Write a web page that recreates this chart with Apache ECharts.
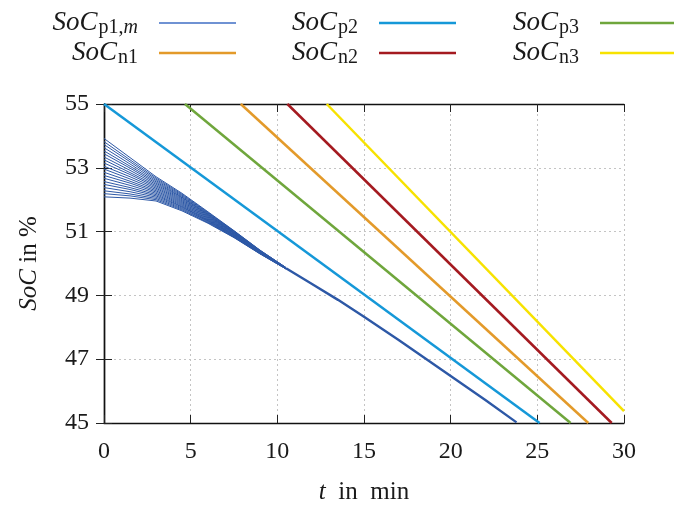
<!DOCTYPE html>
<html>
<head>
<meta charset="utf-8">
<title>SoC over time</title>
<script src="https://cdn.jsdelivr.net/npm/echarts@6/dist/echarts.min.js"></script>
<style>
  html, body { margin: 0; padding: 0; background: #fff; }
  #chart { width: 674px; height: 507px; }
</style>
</head>
<body>
<div id="chart"></div>
<script>
  // fan of SoC_p1,m lines (one row per m), read at fanTimes
  var fanTimes = [0, 1.5, 3, 4.5, 6, 7.5, 9, 10.5];
  var fanSoC = [
    [52.09, 52.05, 51.96, 51.65, 51.26, 50.81, 50.30, 49.83],
    [52.19, 52.12, 52.00, 51.68, 51.28, 50.82, 50.31, 49.83],
    [52.28, 52.18, 52.04, 51.71, 51.30, 50.83, 50.31, 49.83],
    [52.38, 52.25, 52.08, 51.74, 51.32, 50.84, 50.32, 49.84],
    [52.48, 52.32, 52.12, 51.77, 51.34, 50.86, 50.33, 49.84],
    [52.57, 52.38, 52.16, 51.79, 51.35, 50.87, 50.33, 49.84],
    [52.67, 52.45, 52.20, 51.82, 51.37, 50.88, 50.34, 49.84],
    [52.76, 52.52, 52.24, 51.85, 51.39, 50.89, 50.34, 49.84],
    [52.86, 52.58, 52.28, 51.88, 51.41, 50.90, 50.35, 49.85],
    [52.96, 52.65, 52.32, 51.91, 51.43, 50.91, 50.36, 49.85],
    [53.05, 52.72, 52.36, 51.94, 51.45, 50.93, 50.36, 49.85],
    [53.15, 52.79, 52.40, 51.97, 51.47, 50.94, 50.37, 49.85],
    [53.25, 52.85, 52.44, 52.00, 51.49, 50.95, 50.38, 49.86],
    [53.34, 52.92, 52.48, 52.03, 51.51, 50.96, 50.38, 49.86],
    [53.44, 52.99, 52.52, 52.06, 51.53, 50.97, 50.39, 49.86],
    [53.53, 53.05, 52.56, 52.08, 51.54, 50.98, 50.39, 49.86],
    [53.63, 53.12, 52.60, 52.11, 51.56, 51.00, 50.40, 49.86],
    [53.73, 53.19, 52.64, 52.14, 51.58, 51.01, 50.41, 49.87],
    [53.82, 53.25, 52.68, 52.17, 51.60, 51.02, 50.41, 49.87],
    [53.92, 53.32, 52.72, 52.20, 51.62, 51.03, 50.42, 49.87]
  ];
  // merged SoC_p1,m after the fan has closed
  var tailTimes = [10.5, 12, 13.5, 15, 17, 20, 22, 23.8];
  var tailSoC = [49.85, 49.36, 48.86, 48.33, 47.60, 46.47, 45.72, 45.02];

  var p2Times = [0, 25.13],     p2SoC = [55, 45];
  var p3Times = [4.67, 26.92],  p3SoC = [55, 45];
  var n1Times = [7.89, 27.94],  n1SoC = [55, 45];
  var n2Times = [10.58, 29.29], n2SoC = [55, 45];
  var n3Times = [12.85, 30],    n3SoC = [55, 45.37];

  var xTicks = [0, 5, 10, 15, 20, 25, 30];
  var yTicks = [45, 47, 49, 51, 53, 55];

  var serif = 'Liberation Serif';
  var ink = '#1a1a1a';
  var fanColor = '#2d58a6';

  function zip(xs, ys) {
    return xs.map(function (x, i) { return [x, ys[i]]; });
  }

  var labels = {
    p1m: '{i|SoC}{s|p1,}{si|m}',
    p2: '{i|SoC}{s|p2}',
    p3: '{i|SoC}{s|p3}',
    n1: '{i|SoC}{s|n1}',
    n2: '{i|SoC}{s|n2}',
    n3: '{i|SoC}{s|n3}'
  };
  var rich = {
    i: { fontFamily: serif, fontStyle: 'italic', fontSize: 27, lineHeight: 30, color: ink },
    s: { fontFamily: serif, fontSize: 20, lineHeight: 18, verticalAlign: 'bottom', padding: [10, 0, 0, 1], color: ink },
    si: { fontFamily: serif, fontStyle: 'italic', fontSize: 20, lineHeight: 18, verticalAlign: 'bottom', padding: [10, 0, 0, 0], color: ink }
  };

  var series = [];
  fanSoC.forEach(function (row) {
    series.push({
      name: 'p1m', type: 'line', symbol: 'none', silent: true,
      lineStyle: { width: 1, color: fanColor }, itemStyle: { color: fanColor },
      data: zip(fanTimes, row)
    });
  });
  series.push({
    name: 'p1m', type: 'line', symbol: 'none', silent: true,
    lineStyle: { width: 2.4, color: fanColor }, itemStyle: { color: fanColor },
    data: zip(tailTimes, tailSoC)
  });
  var others = [
    ['p2', p2Times, p2SoC, '#1598d8'],
    ['p3', p3Times, p3SoC, '#6fa63c'],
    ['n1', n1Times, n1SoC, '#e39a2a'],
    ['n2', n2Times, n2SoC, '#a41a20'],
    ['n3', n3Times, n3SoC, '#f7e200']
  ];
  others.forEach(function (o) {
    series.push({
      name: o[0], type: 'line', symbol: 'none',
      lineStyle: { width: 2.5, color: o[3] }, itemStyle: { color: o[3] },
      data: zip(o[1], o[2])
    });
  });

  // legend: 2 rows x 3 columns, text left of line
  var legendPos = [
    ['p1m', 438, 8], ['p2', 218, 8], ['p3', -3, 8],
    ['n1', 438, 38], ['n2', 218, 38], ['n3', -3, 38]
  ];
  var legends = legendPos.map(function (l) {
    var lg = {
      data: [l[0]], right: l[1], top: l[2], align: 'right', orient: 'horizontal',
      padding: 0, itemGap: 0, itemWidth: 77, itemHeight: 2.5, icon: 'rect', selectedMode: false,
      formatter: function (name) { return labels[name]; },
      textStyle: { rich: rich, padding: [0, 16, 0, 0] }
    };
    if (l[0] === 'p1m') {
      lg.itemHeight = 2;
      lg.itemStyle = { color: '#6f92d3' };
    }
    return lg;
  });

  var tickLabel = { fontFamily: serif, fontSize: 24, color: ink };
  var dotted = { show: true, lineStyle: { color: '#c4c4c4', type: [2, 3], width: 1 } };
  var frame = { show: true, lineStyle: { color: '#111', width: 1.4 } };
  var tickIn = { show: true, inside: true, length: 8, lineStyle: { color: '#222', width: 1 } };
  var titleStyle = {
    fontFamily: serif, fontSize: 25, color: ink,
    rich: { i: { fontFamily: serif, fontStyle: 'italic', fontSize: 25, color: ink } }
  };

  var chart = echarts.init(document.getElementById('chart'), null, { renderer: 'canvas' });
  chart.setOption({
    animation: false,
    backgroundColor: '#fff',
    legend: legends,
    grid: { left: 104, right: 50, top: 104, bottom: 84, containLabel: false, outerBoundsMode: 'none' },
    xAxis: [{
      type: 'value', min: xTicks[0], max: xTicks[xTicks.length - 1], interval: 5,
      axisLine: frame, axisTick: tickIn, splitLine: dotted,
      axisLabel: Object.assign({ margin: 17 }, tickLabel),
      name: '{i|t}  in  min', nameLocation: 'middle', nameGap: 57,
      nameTextStyle: titleStyle
    }, {
      type: 'value', position: 'top', min: xTicks[0], max: xTicks[xTicks.length - 1], interval: 5,
      axisLine: frame, axisTick: tickIn, splitLine: { show: false }, axisLabel: { show: false }
    }],
    yAxis: [{
      type: 'value', min: yTicks[0], max: yTicks[yTicks.length - 1], interval: 2,
      axisLine: frame, axisTick: tickIn, splitLine: dotted,
      axisLabel: Object.assign({ margin: 15 }, tickLabel),
      name: '{i|SoC} in %', nameLocation: 'middle', nameGap: 62, nameRotate: 90,
      nameTextStyle: titleStyle
    }, {
      type: 'value', position: 'right', min: yTicks[0], max: yTicks[yTicks.length - 1], interval: 2,
      axisLine: frame, axisTick: tickIn, splitLine: { show: false }, axisLabel: { show: false }
    }],
    series: series
  });
</script>
</body>
</html>
